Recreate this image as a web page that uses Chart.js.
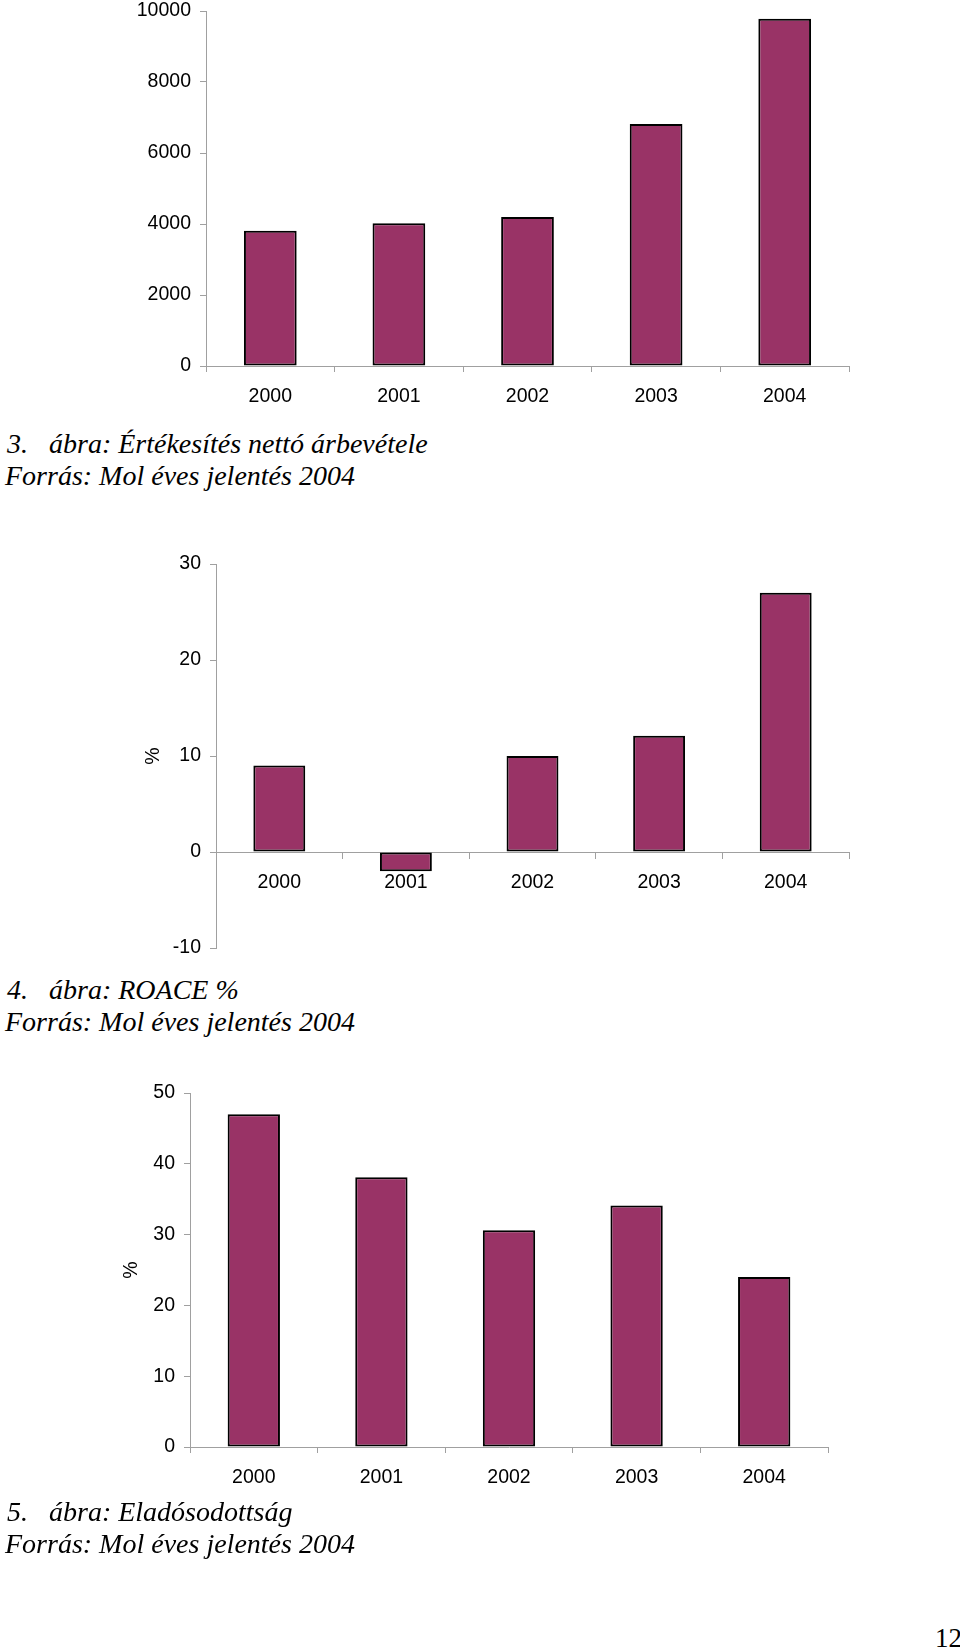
<!DOCTYPE html>
<html lang="hu">
<head>
<meta charset="utf-8">
<title>MOL ábrák</title>
<script src="https://cdn.jsdelivr.net/npm/chart.js@4.4.1/dist/chart.umd.min.js"></script>
<style>
  html, body { margin: 0; padding: 0; background: #fff; }
  body { width: 960px; height: 1650px; position: relative; overflow: hidden; }
  canvas { position: absolute; left: 0; }
  .caption {
    position: absolute; left: 5px;
    font-family: 'Liberation Serif', 'Times New Roman', serif;
    font-style: italic; font-size: 28px; line-height: 32px;
    color: #000; white-space: nowrap;
  }
  .num { display: inline-block; width: 42px; padding-left: 2px; }
  #page {
    position: absolute; left: 935px; top: 1622px;
    font-family: 'Liberation Serif', 'Times New Roman', serif;
    font-size: 27px; line-height: 32px; color: #000;
  }
</style>
</head>
<body>
<canvas id="sales" width="960" height="420" style="top:0px"></canvas>
<div class="caption" style="top:428px"><span class="num">3.</span>ábra: Értékesítés nettó árbevétele<br>Forrás: Mol éves jelentés 2004</div>

<canvas id="roace" width="960" height="470" style="top:500px"></canvas>
<div class="caption" style="top:974px"><span class="num">4.</span>ábra: ROACE %<br>Forrás: Mol éves jelentés 2004</div>

<canvas id="debt" width="960" height="440" style="top:1060px"></canvas>
<div class="caption" style="top:1496px"><span class="num">5.</span>ábra: Eladósodottság<br>Forrás: Mol éves jelentés 2004</div>

<div id="page">12</div>

<script>
const years = ['2000', '2001', '2002', '2003', '2004'];

// 3. ábra – nettó árbevétel
const salesValues = [3810, 4020, 4200, 6820, 9780];
const salesTicks = [0, 2000, 4000, 6000, 8000, 10000];

// 4. ábra – ROACE %
const roaceValues = [9, -2, 10, 12.1, 27];
const roaceTicks = [-10, 0, 10, 20, 30];

// 5. ábra – eladósodottság %
const debtValues = [47, 38.1, 30.6, 34.1, 24];
const debtTicks = [0, 10, 20, 30, 40, 50];

const barColor = '#993366';
const axisColor = '#a0a0a0';

Chart.defaults.font.family = "'Liberation Sans', Arial, sans-serif";
Chart.defaults.font.size = 19.5;
Chart.defaults.color = '#000';

function makeChart(id, values, ticks, box) {
  const ctx = document.getElementById(id).getContext('2d');
  return new Chart(ctx, {
    type: 'bar',
    data: {
      labels: years,
      datasets: [{
        data: values,
        backgroundColor: barColor,
        borderColor: '#000',
        borderWidth: 2,
        borderSkipped: false,
        barPercentage: 0.41,
        categoryPercentage: 1
      }]
    },
    options: {
      responsive: false,
      animation: false,
      devicePixelRatio: 1,
      layout: { padding: { left: 0, top: box.top, right: box.right, bottom: box.bottom } },
      plugins: { legend: { display: false }, tooltip: { enabled: false } },
      scales: {
        x: {
          position: box.xAtZero ? { y: 0 } : 'bottom',
          grid: { drawOnChartArea: false, drawTicks: true, tickLength: 6, color: axisColor, offset: true },
          border: { color: axisColor, width: 1 },
          ticks: { padding: 13, maxRotation: 0, autoSkip: false },
          afterFit: s => {
            s.height = box.xHeight;
            s.paddingLeft = 0;
            s.paddingRight = 0;
          }
        },
        y: {
          min: ticks[0],
          max: ticks[ticks.length - 1],
          grid: { drawOnChartArea: false, drawTicks: true, tickLength: 6, color: axisColor },
          border: { color: axisColor, width: 1 },
          ticks: { padding: 9, callback: v => String(v) },
          afterBuildTicks: s => { s.ticks = ticks.map(v => ({ value: v })); },
          title: box.title ? {
            display: true, text: '%', padding: { top: box.titlePad, bottom: 0 }
          } : { display: false },
          afterFit: s => {
            s.width = box.yWidth;
            s.paddingTop = 0;
            s.paddingBottom = 0;
          }
        }
      }
    }
  });
}

makeChart('sales', salesValues, salesTicks,
  { top: 11, right: 111, bottom: 0, xHeight: 54, yWidth: 206 });

makeChart('roace', roaceValues, roaceTicks,
  { top: 64, right: 111, bottom: 22, xHeight: 0, yWidth: 216, xAtZero: true, title: true, titlePad: 142 });

makeChart('debt', debtValues, debtTicks,
  { top: 33, right: 132, bottom: 0, xHeight: 53, yWidth: 190, title: true, titlePad: 120 });
</script>
</body>
</html>
